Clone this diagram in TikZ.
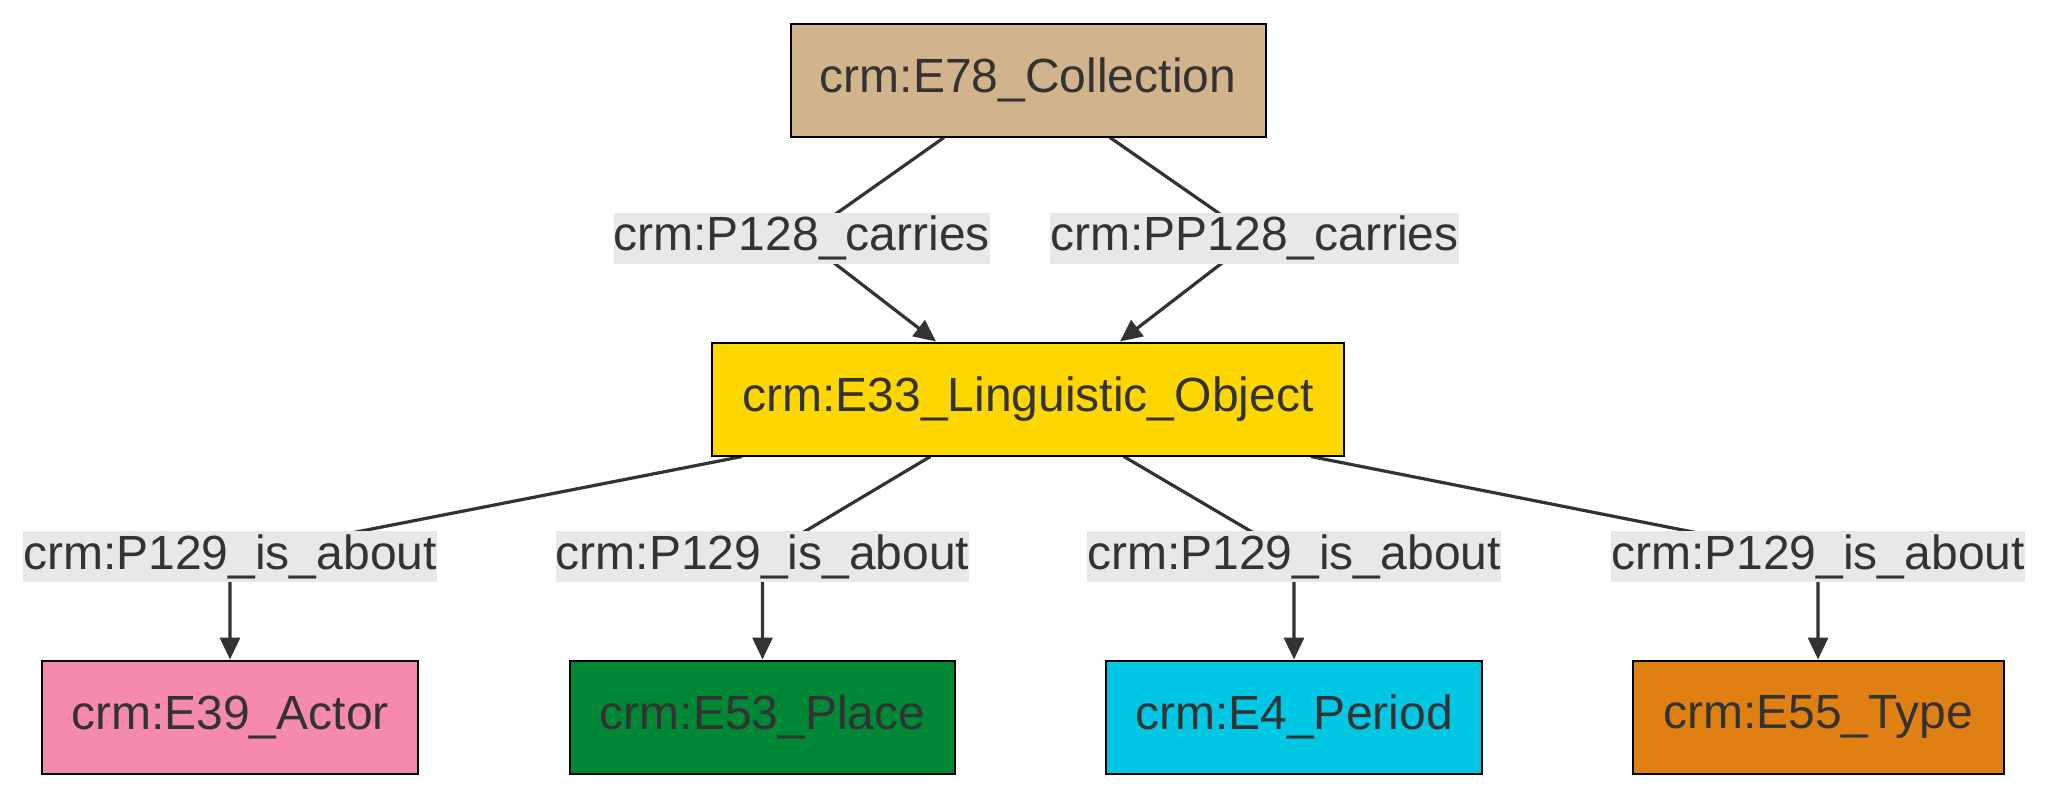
\documentclass[tikz,border=0pt]{standalone}
\usepackage{fontspec}
\setmainfont{Liberation Sans}
\usetikzlibrary{arrows.meta,backgrounds}
\definecolor{txt}{HTML}{333333}
\definecolor{lblgray}{HTML}{E8E8E8}
\definecolor{tanbox}{HTML}{D2B48C}
\definecolor{goldbox}{HTML}{FFD700}
\definecolor{actorbox}{HTML}{F68AAC}
\definecolor{placebox}{HTML}{008837}
\definecolor{periodbox}{HTML}{00C8E4}
\definecolor{typebox}{HTML}{E08012}
\begin{document}
\begin{tikzpicture}[x=0.5pt,y=0.5pt,
  cls/.style={draw=black, line width=1pt, minimum height=56.5pt, text=txt, font=\fontsize{24}{28}\selectfont},
  lbl/.style={fill=lblgray, inner sep=0pt, minimum height=25.5pt, text=txt, font=\fontsize{24}{28}\selectfont},
  rel/.style={draw=txt, line width=1.6pt, arrows={-Triangle[length=11pt, width=10pt]}}]
  \useasboundingbox (0,0) rectangle (2049,-798);

  % classes
  \node[cls, fill=tanbox, minimum width=237.5pt] (e78) at (1028,-80) {crm:E78\_Collection};
  \node[cls, fill=goldbox, minimum width=315.75pt] (e33) at (1028,-399) {crm:E33\_Linguistic\_Object};
  \node[cls, fill=actorbox, minimum width=188pt] (e39) at (230,-717) {crm:E39\_Actor};
  \node[cls, fill=placebox, minimum width=192.75pt] (e53) at (762.5,-717) {crm:E53\_Place};
  \node[cls, fill=periodbox, minimum width=188pt] (e4) at (1294,-717) {crm:E4\_Period};
  \node[cls, fill=typebox, minimum width=185.5pt] (e55) at (1818,-717) {crm:E55\_Type};

  % edge labels
  \node[lbl] (p128) at (801.7,-238) {crm:P128\_carries};
  \node[lbl] (pp128) at (1254.5,-238) {crm:PP128\_carries};
  \node[lbl] (p129a) at (230,-556.7) {crm:P129\_is\_about};
  \node[lbl] (p129b) at (762.5,-556.7) {crm:P129\_is\_about};
  \node[lbl] (p129c) at (1294,-556.7) {crm:P129\_is\_about};
  \node[lbl] (p129d) at (1818,-556.7) {crm:P129\_is\_about};

  \begin{scope}[on background layer]
    \draw[rel] ([xshift=-42pt]e78.south) -- (p128.center) -- ([xshift=-46pt]e33.north);
    \draw[rel] ([xshift=41pt]e78.south) -- (pp128.center) -- ([xshift=46pt]e33.north);

    \draw[rel] ([xshift=-142.9pt]e33.south) -- (p129a.center) -- (e39.north);
    \draw[rel] ([xshift=-48.8pt]e33.south) -- (p129b.center) -- (e53.north);
    \draw[rel] ([xshift=47.9pt]e33.south) -- (p129c.center) -- (e4.north);
    \draw[rel] ([xshift=141.4pt]e33.south) -- (p129d.center) -- (e55.north);
  \end{scope}
\end{tikzpicture}
\end{document}
